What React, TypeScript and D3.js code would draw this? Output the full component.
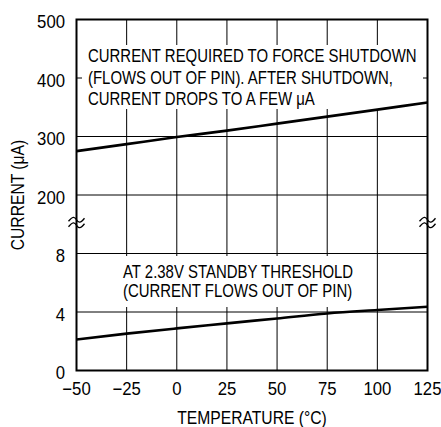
import React from "react";
import * as d3 from "d3";

const temps = [-50, -25, 0, 25, 50, 75, 100, 125];
const shutdownCurrent = [275, 287, 299, 310, 322, 334, 346, 358];
const standbyCurrent = [2.12, 2.52, 2.88, 3.22, 3.56, 3.9, 4.14, 4.36];
const xTicks = [-50, -25, 0, 25, 50, 75, 100, 125];
const yHighTicks = [200, 300, 400, 500];
const yLowTicks = [0, 4, 8];
const upperNote = [
  "CURRENT REQUIRED TO FORCE SHUTDOWN",
  "(FLOWS OUT OF PIN). AFTER SHUTDOWN,",
  "CURRENT DROPS TO A FEW \u03BCA",
];
const lowerNote = ["AT 2.38V STANDBY THRESHOLD", "(CURRENT FLOWS OUT OF PIN)"];
const xTitle = "TEMPERATURE (\u00B0C)";
const yTitle = "CURRENT (\u03BCA)";

const W = 441;
const H = 427;
const L = 76.5;
const R = 427.5;
const T = 19.5;
const B = 370.5;
const step = (B - T) / 6;
const FONT = "'Liberation Sans', Arial, Helvetica, sans-serif";

const fmt = (v: number) => (v < 0 ? "\u2212" + Math.abs(v) : String(v));

function Txt(props: {
  x: number;
  y: number;
  anchor?: string;
  rotate?: number;
  size?: number;
  sx?: number;
  children: React.ReactNode;
}) {
  const { x, y, anchor = "start", rotate = 0, size = 18, sx = 0.83, children } = props;
  return (
    <text
      transform={`translate(${x},${y}) rotate(${rotate}) scale(${sx},1)`}
      textAnchor={anchor}
      fontSize={size}
      fill="#000"
    >
      {children}
    </text>
  );
}

export default function App() {
  const x = d3.scaleLinear().domain([-50, 125]).range([L, R]);
  const yLow = d3.scaleLinear().domain([0, 8]).range([B, B - 2 * step]);
  const yHigh = d3.scaleLinear().domain([200, 500]).range([B - 3 * step, T]);

  const lineHigh = d3
    .line<number>()
    .x((_, i) => x(temps[i]))
    .y((d) => yHigh(d))
    .curve(d3.curveMonotoneX);
  const lineLow = d3
    .line<number>()
    .x((_, i) => x(temps[i]))
    .y((d) => yLow(d))
    .curve(d3.curveMonotoneX);

  const breakY = (yHigh(200) + yLow(8)) / 2 - 2;
  const wave = (cx: number, cy: number) => {
    const w = 8;
    return `M${cx - w},${cy + 1.5} C${cx - w / 2},${cy - 3.5} ${cx - w / 4},${cy - 3.5} ${cx},${cy} S${cx + w / 2},${cy + 3.5} ${cx + w},${cy - 1.5}`;
  };

  return (
    <svg
      width={W}
      height={H}
      style={{ position: "absolute", left: 0, top: 0, background: "#fff" }}
      fontFamily={FONT}
    >
      <rect x={0} y={0} width={W} height={H} fill="#fff" />
      {/* grid */}
      {xTicks.slice(1, -1).map((t) => (
        <line key={"vx" + t} x1={x(t)} x2={x(t)} y1={T} y2={B} stroke="#000" strokeWidth={1} />
      ))}
      {yHighTicks.slice(0, 3).map((t) => (
        <line key={"hy" + t} x1={L} x2={R} y1={yHigh(t)} y2={yHigh(t)} stroke="#000" strokeWidth={1} />
      ))}
      {yLowTicks.slice(1).map((t) => (
        <line key={"ly" + t} x1={L} x2={R} y1={yLow(t)} y2={yLow(t)} stroke="#000" strokeWidth={1} />
      ))}
      {/* annotation backgrounds */}
      <rect x={82} y={45} width={341} height={64} fill="#fff" />
      <rect x={118} y={256} width={250} height={51} fill="#fff" />
      {/* data */}
      <path d={lineHigh(shutdownCurrent) || ""} fill="none" stroke="#000" strokeWidth={2.6} />
      <path d={lineLow(standbyCurrent) || ""} fill="none" stroke="#000" strokeWidth={2.6} />
      {/* frame */}
      <rect x={L} y={T} width={R - L} height={B - T} fill="none" stroke="#000" strokeWidth={2} />
      {/* breaks */}
      {[L, R].map((bx) => (
        <g key={"br" + bx}>
          <path d={wave(bx, breakY - 2.5)} fill="none" stroke="#000" strokeWidth={1.3} />
          <path d={wave(bx, breakY + 3)} fill="none" stroke="#000" strokeWidth={1.3} />
        </g>
      ))}
      {/* y tick labels */}
      {yHighTicks.map((t) => (
        <Txt key={"yt" + t} x={65} y={yHigh(t) + 8.5} anchor="end" sx={0.93}>
          {t}
        </Txt>
      ))}
      {yLowTicks.map((t) => (
        <Txt key={"yl" + t} x={65} y={yLow(t) + 8.5} anchor="end" sx={0.93}>
          {t}
        </Txt>
      ))}
      {/* x tick labels */}
      {xTicks.map((t) => (
        <Txt key={"xt" + t} x={x(t)} y={395} anchor="middle" sx={0.93}>
          {fmt(t)}
        </Txt>
      ))}
      <Txt x={(L + R) / 2} y={424} anchor="middle" sx={0.87}>
        {xTitle}
      </Txt>
      <Txt x={24} y={195} anchor="middle" rotate={-90} sx={0.87}>
        {yTitle}
      </Txt>
      {/* annotations */}
      {upperNote.map((s, i) => (
        <Txt key={"un" + i} x={88} y={62 + i * 21.5}>
          {s}
        </Txt>
      ))}
      {lowerNote.map((s, i) => (
        <Txt key={"ln" + i} x={123} y={278 + i * 19}>
          {s}
        </Txt>
      ))}
    </svg>
  );
}
